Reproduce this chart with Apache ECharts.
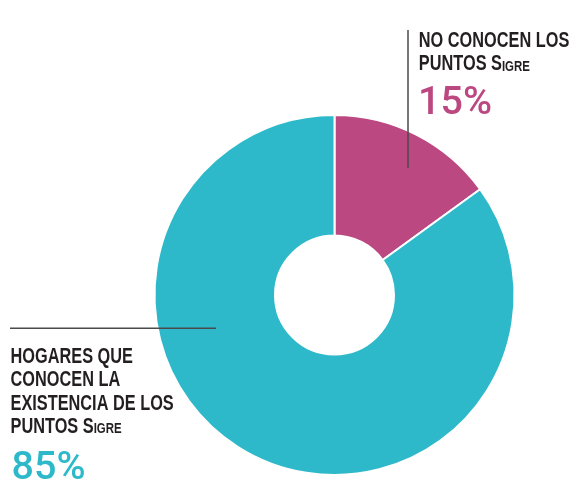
<!DOCTYPE html>
<html><head><meta charset="utf-8">
<script src="https://cdn.jsdelivr.net/npm/echarts@6/dist/echarts.min.js"></script>
<style>html,body{margin:0;padding:0;background:#fff}#c{width:571px;height:484px}</style>
</head><body><div id="c"></div>
<script>
var categories = ['NO CONOCEN LOS PUNTOS SIGRE', 'HOGARES QUE CONOCEN LA EXISTENCIA DE LOS PUNTOS SIGRE'];
var values = [15, 85];
var colors = ['#bc4881', '#2db9c9'];
var labelLinesRight = ['NO CONOCEN LOS', 'PUNTOS S'];
var labelLinesLeft = ['HOGARES QUE', 'CONOCEN LA', 'EXISTENCIA DE LOS', 'PUNTOS S'];
var smallCaps = 'IGRE';

var FONT = '"Liberation Sans", Arial, sans-serif';
var BIG = 21.4, SMALL = 15, SX = 0.763;
var ctx = document.createElement('canvas').getContext('2d');
ctx.font = 'bold ' + BIG + 'px ' + FONT;

function lineEls(lines, x, ys) {
  var els = [];
  lines.forEach(function (l, i) {
    els.push({ type: 'text', x: x, y: ys[i], scaleX: SX, z: 100,
      style: { text: l, fontSize: BIG, fontWeight: 'bold', fontFamily: FONT, fill: '#231f20', verticalAlign: 'middle', align: 'left' } });
    if (i === lines.length - 1) {
      var w = ctx.measureText(l).width * SX;
      els.push({ type: 'text', x: x + w, y: ys[i] + 0.3465 * (BIG - SMALL), scaleX: SX, z: 100,
        style: { text: smallCaps, fontSize: SMALL, fontWeight: 'bold', fontFamily: FONT, fill: '#231f20', verticalAlign: 'middle', align: 'left' } });
    }
  });
  return els;
}

var chart = echarts.init(document.getElementById('c'));
chart.setOption({
  animation: false,
  series: [{
    type: 'pie',
    center: [334.5, 295],
    radius: [59.5, 180],
    startAngle: 90,
    clockwise: true,
    label: { show: false },
    labelLine: { show: false },
    itemStyle: { borderColor: '#fff', borderWidth: 2 },
    emphasis: { disabled: true },
    data: categories.map(function (c, i) {
      return { name: c, value: values[i], itemStyle: { color: colors[i] } };
    })
  }],
  graphic: [
    { type: 'line', z: 100, shape: { x1: 408, y1: 30, x2: 408, y2: 168 }, style: { stroke: '#4a4a4a', lineWidth: 1.5 } },
    { type: 'line', z: 100, shape: { x1: 10, y1: 328.3, x2: 216, y2: 328.3 }, style: { stroke: '#4a4a4a', lineWidth: 1.5 } }
  ].concat(lineEls(labelLinesRight, 418.8, [40.8, 64.5]))
   .concat(lineEls(labelLinesLeft, 10.5, [357, 380.4, 403.7, 427.1]))
   .concat([
    { type: 'text', x: 418, y: 104.5, z: 100, style: { text: values[0] + '%', fontSize: 39.5, fontWeight: 500, fontFamily: 'Roboto, sans-serif', fill: colors[0], verticalAlign: 'middle' } },
    { type: 'text', x: 11.5, y: 469.5, z: 100, style: { text: values[1] + '%', fontSize: 39.5, fontWeight: 500, fontFamily: 'Roboto, sans-serif', fill: colors[1], verticalAlign: 'middle' } }
  ])
});
</script></body></html>
